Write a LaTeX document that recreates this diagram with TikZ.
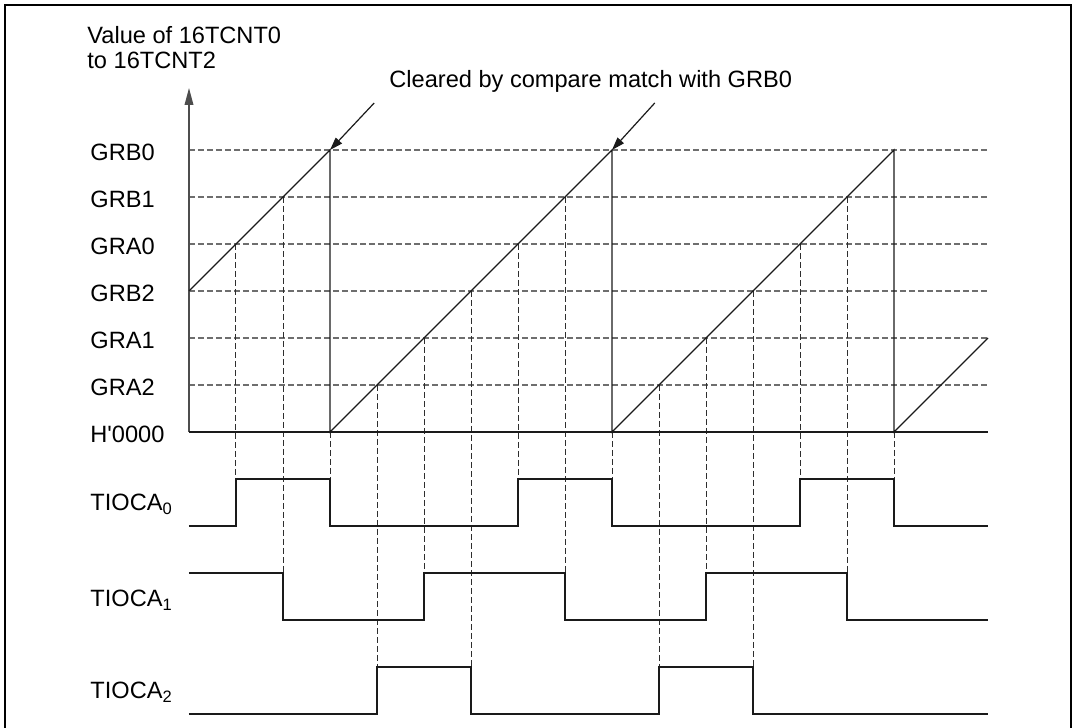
\documentclass[tikz,border=0pt]{standalone}
\usepackage{fontspec}
\setmainfont{Liberation Sans}
\usetikzlibrary{arrows.meta}
\definecolor{PlotInk}{HTML}{1A1A1A}
\definecolor{GridInk}{HTML}{6E6E6E}
\definecolor{MatchInk}{HTML}{2E2E2E}

\begin{document}
\begin{tikzpicture}[
    x=23.5pt, y=23.5pt,
    font=\fontsize{11.8}{12.5}\selectfont,
    level/.style={draw=GridInk, line width=0.6pt, dash pattern=on 2.8pt off 1.7pt},
    match/.style={draw=MatchInk, line width=0.5pt, dash pattern=on 2.8pt off 1.7pt},
    signal/.style={draw=PlotInk, line width=0.6pt, line join=miter},
    lab/.style={anchor=base west, inner sep=0pt},
  ]
  \useasboundingbox (-4.0213,-6.298) rectangle (18.830,9.1915);
  % frame (bottom edge lies below the page)
  \draw[line width=1.25pt] (-3.915,-6.5) |- (18.766,9.085) -- (18.766,-6.5);

  % compare levels
  \foreach \lab/\lv in {GRB0/6, GRB1/5, GRA0/4, GRB2/3, GRA1/2, GRA2/1}{
    \draw[level] (0,\lv) -- (17,\lv);
    \node[lab] (lv-\lv) at (-2.106,\lv-0.234) {\lab};
  }
  \node[lab] (lv-0) at (-2.106,-0.234) {H\textquotesingle 0000};

  % compare-match instants
  \foreach \t/\top/\bot in {1/4/-1, 2/5/-3, 3/0/-1, 4/1/-5, 5/2/-3, 6/3/-5, 7/4/-1, 8/5/-3,
      9/0/-1, 10/1/-5, 11/2/-3, 12/3/-5, 13/4/-1, 14/5/-3, 15/0/-1}
    \draw[match] (\t,\top) -- (\t,\bot);

  % axes
  \coordinate (origin) at (0,0);
  \coordinate (ytip) at (0,7.32);
  \draw[signal, draw=GridInk!70!black, line width=0.8pt,
    -{Triangle[length=8.5pt, width=4.3pt]}] (origin) -- (ytip);
  \draw[signal] (origin) -- (17,0);
  \node[anchor=north west, inner sep=0pt, align=left] (ytitle) at (-2.17,8.64)
    {Value of 16TCNT0\\to 16TCNT2};

  % counter
  \coordinate (peak1) at (3,6);
  \coordinate (peak2) at (9,6);
  \draw[signal] (0,3) -- (peak1) -- (3,0) -- (peak2) -- (9,0) -- (15,6) -- (15,0) -- (17,2);

  % clearing note
  \node[lab] (clear) at (4.255,7.319) {Cleared by compare match with GRB0};
  \coordinate (clr1) at (3.94,7.0);
  \coordinate (clr2) at (9.91,7.0);
  \draw[signal, -{Triangle[length=6.5pt, width=4.2pt]}] (clr1) -- (peak1);
  \draw[signal, -{Triangle[length=6.5pt, width=4.2pt]}] (clr2) -- (peak2);

  % outputs
  \node[lab] (out0) at (-2.106,-1.67) {TIOCA\textsubscript{0}};
  \node[lab] (out1) at (-2.106,-3.72) {TIOCA\textsubscript{1}};
  \node[lab] (out2) at (-2.106,-5.67) {TIOCA\textsubscript{2}};
  \draw[signal] (0,-2) -- (1,-2) -- (1,-1) -- (3,-1) -- (3,-2) -- (7,-2) -- (7,-1)
    -- (9,-1) -- (9,-2) -- (13,-2) -- (13,-1) -- (15,-1) -- (15,-2) -- (17,-2);
  \draw[signal] (0,-3) -- (2,-3) -- (2,-4) -- (5,-4) -- (5,-3) -- (8,-3) -- (8,-4)
    -- (11,-4) -- (11,-3) -- (14,-3) -- (14,-4) -- (17,-4);
  \draw[signal] (0,-6) -- (4,-6) -- (4,-5) -- (6,-5) -- (6,-6) -- (10,-6) -- (10,-5)
    -- (12,-5) -- (12,-6) -- (17,-6);
\end{tikzpicture}
\end{document}
